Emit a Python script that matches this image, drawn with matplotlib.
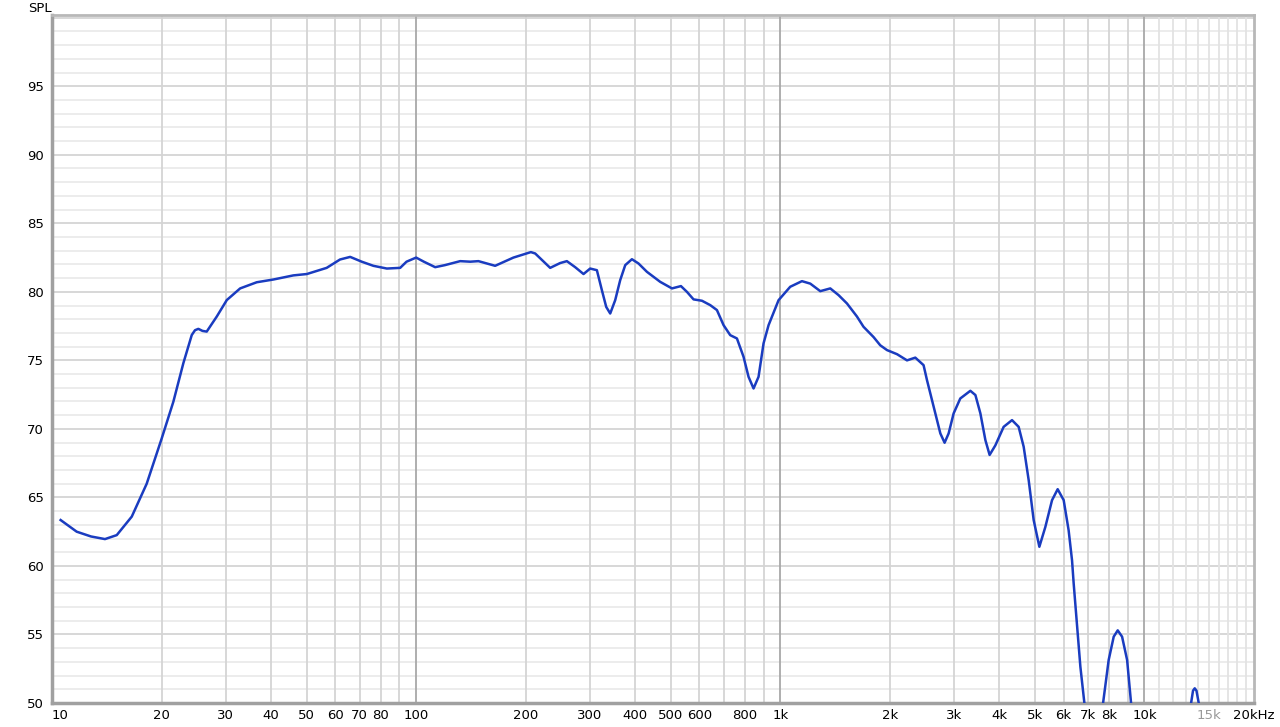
import matplotlib
matplotlib.use("Agg")
import matplotlib.pyplot as plt

# frequency response readings (Hz, dB SPL)
freq = [10.56, 11.69, 12.8, 13.98, 15.06, 16.56, 18.2, 20.01, 21.54, 22.95,
        24.2, 24.7, 25.23, 25.9, 26.6, 28.35, 30.2, 32.86, 36.5, 40.55,
        46.0, 50.1, 56.8, 61.8, 65.9, 70.9, 76.3, 83.1, 90.4, 94.1,
        100, 105, 112.8, 120, 132.1, 140.8, 148.3, 164.8, 185, 206.6,
        212.3, 233.4, 248.6, 259.4, 273.4, 288.2, 300.6, 313.6, 323.7, 332.7,
        341.2, 352.1, 363.4, 375.2, 391.4, 408, 430.4, 468, 504.2, 533.6,
        554.2, 577.9, 609.5, 642.3, 670, 698.7, 728.8, 760.3, 792.8, 818.3,
        844.6, 871.7, 899.7, 928.8, 989.3, 1065, 1147, 1209, 1288, 1372,
        1446, 1525, 1624, 1693, 1804, 1882, 1964, 2093, 2229, 2349,
        2475, 2529, 2666, 2752, 2827, 2900, 2993, 3122, 3327, 3435,
        3545, 3659, 3758, 3897, 4107, 4330, 4515, 4661, 4811, 4965,
        5147, 5345, 5577, 5779, 6003, 6194, 6329, 6394, 6671, 6842,
        7000, 7250, 7500, 7701, 7979, 8237, 8448, 8684, 8965, 9192,
        9500, 11000, 12800, 13437, 13600, 13748, 13900, 14101, 15000, 20000]
spl = [63.35, 62.5, 62.15, 61.96, 62.25, 63.6, 66.0, 69.3, 71.98, 74.8,
       76.85, 77.2, 77.3, 77.15, 77.1, 78.2, 79.4, 80.25, 80.7, 80.9,
       81.2, 81.3, 81.75, 82.36, 82.55, 82.2, 81.9, 81.7, 81.75, 82.2,
       82.5, 82.2, 81.8, 81.95, 82.24, 82.2, 82.24, 81.9, 82.5, 82.9,
       82.8, 81.75, 82.1, 82.24, 81.8, 81.3, 81.7, 81.58, 80.12, 78.9,
       78.42, 79.39, 80.85, 81.95, 82.38, 82.07, 81.46, 80.73, 80.25, 80.42,
       80.0, 79.45, 79.35, 79.03, 78.67, 77.57, 76.84, 76.6, 75.26, 73.8,
       72.95, 73.8, 76.24, 77.57, 79.39, 80.37, 80.78, 80.6, 80.05, 80.25,
       79.76, 79.15, 78.2, 77.45, 76.7, 76.1, 75.75, 75.45, 75.0, 75.2,
       74.65, 73.56, 71.13, 69.67, 68.99, 69.67, 71.13, 72.22, 72.78, 72.47,
       71.13, 69.18, 68.1, 68.8, 70.15, 70.64, 70.15, 68.7, 66.26, 63.35,
       61.4, 62.84, 64.8, 65.6, 64.8, 62.6, 60.4, 58.73, 52.65, 50.0,
       47.5, 45.5, 47.5, 50.0, 53.14, 54.84, 55.3, 54.84, 53.14, 50.0,
       47.0, 43.0, 47.0, 50.0, 50.9, 51.07, 50.9, 50.0, 46.0, 42.0]

xtick_pos = [10, 20, 30, 40, 50, 60, 70, 80, 100, 200, 300, 400, 500, 600, 800,
             1000, 2000, 3000, 4000, 5000, 6000, 7000, 8000, 10000, 15000, 20000]
xtick_lab = ["10", "20", "30", "40", "50", "60", "70", "80", "100", "200", "300",
             "400", "500", "600", "800", "1k", "2k", "3k", "4k", "5k", "6k", "7k",
             "8k", "10k", "15k", "20kHz"]
ytick_pos = [50, 55, 60, 65, 70, 75, 80, 85, 90, 95]

fig = plt.figure(figsize=(12.8, 7.27), dpi=100)
ax = fig.add_axes([52 / 1280, 1 - 703 / 727, (1254 - 52) / 1280, (703 - 15) / 727])
ax.set_xscale("log")
ax.set_xlim(10, 20000)
ax.set_ylim(50, 100.2)

# grid
for db in range(51, 101):
    c = "#d4d4d4" if db % 5 == 0 else "#ebebeb"
    ax.axhline(db, color=c, lw=1.3, zorder=1)
for dec in [10, 100, 1000]:
    for m in range(2, 10):
        ax.axvline(dec * m, color="#d4d4d4", lw=1.3, zorder=1)
for m in range(11, 20):
    ax.axvline(m * 1000, color="#e3e3e3", lw=1.3, zorder=1)
for dec in [100, 1000, 10000]:
    ax.axvline(dec, color="#a8a8a8", lw=1.3, zorder=1)

ax.plot(freq, spl, color="#1a3cc0", lw=1.8, zorder=3,
        solid_joinstyle="round")

ax.set_xticks(xtick_pos)
ax.set_xticklabels(xtick_lab)
ax.minorticks_off()
ax.set_yticks(ytick_pos)
ax.tick_params(length=0, labelsize=9.5, pad=4)
ax.tick_params(axis="y", pad=6)
for lab in ax.get_xticklabels():
    if lab.get_text() == "15k":
        lab.set_color("#999999")
    if lab.get_text() == "10":
        lab.set_horizontalalignment("left")

for side in ["left", "bottom"]:
    ax.spines[side].set_color("#a0a0a0")
    ax.spines[side].set_linewidth(2.5)
for side in ["top", "right"]:
    ax.spines[side].set_color("#b8b8b8")
    ax.spines[side].set_linewidth(2)

fig.text(28 / 1280, 1 - 8 / 727, "SPL", fontsize=9.5, va="center", ha="left")

fig.savefig("out.png", dpi=100)
